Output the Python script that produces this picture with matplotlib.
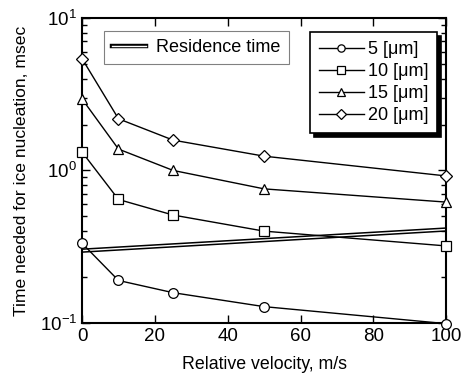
import matplotlib
matplotlib.use('Agg')
import matplotlib.pyplot as plt
from matplotlib.lines import Line2D
from matplotlib.legend_handler import HandlerTuple

plt.rcParams['font.family'] = ['Liberation Sans', 'DejaVu Sans']
plt.rcParams['mathtext.fontset'] = 'custom'
plt.rcParams['mathtext.rm'] = 'Liberation Sans'
plt.rcParams['mathtext.it'] = 'Liberation Sans:italic'

# 資料
velocity = [0, 10, 25, 50, 100]
t5 = [0.333, 0.19, 0.158, 0.128, 0.099]
t10 = [1.32, 0.645, 0.51, 0.40, 0.32]
t15 = [2.94, 1.38, 1.0, 0.757, 0.62]
t20 = [5.4, 2.18, 1.58, 1.24, 0.92]
res_v = [0, 100]
res_t = [0.298, 0.41]

labels = ['5 [μm]', '10 [μm]', '15 [μm]', '20 [μm]']
markers = ['o', 's', '^', 'D']

fig = plt.figure(figsize=(4.61, 3.80), dpi=100)
ax = fig.add_axes([0.178, 0.15, 0.79, 0.803])

# residence time: double line
ax.plot(res_v, res_t, color='black', lw=3.2, solid_capstyle='butt', zorder=2)
ax.plot(res_v, res_t, color='white', lw=1.0, solid_capstyle='butt', zorder=2)

handles = []
for data, m, lab in zip([t5, t10, t15, t20], markers, labels):
    ms = 6.5 if m == 'D' else 7
    h, = ax.plot(velocity, data, color='black', lw=1, marker=m, ms=ms,
                 mfc='white', mec='black', mew=0.9, label=lab, zorder=3,
                 clip_on=False)
    handles.append(h)

ax.set_yscale('log')
ax.set_xlim(0, 100)
ax.set_ylim(0.1, 10)
ax.set_xticks([0, 20, 40, 60, 80, 100])
ax.tick_params(which='both', direction='in', top=True, right=True,
               labelsize=13.5, width=1)
ax.tick_params(which='major', length=6)
ax.tick_params(which='minor', length=3.5)
for s in ax.spines.values():
    s.set_linewidth(1.5)

ax.set_xlabel('Relative velocity, m/s', fontsize=12.8, labelpad=8)
ax.set_ylabel('Time needed for ice nucleation, msec', fontsize=12.6, labelpad=8)

res_handle = (Line2D([], [], color='black', lw=3.2),
              Line2D([], [], color='white', lw=1.0))
leg1 = ax.legend([res_handle], ['Residence time'],
                 handler_map={tuple: HandlerTuple(ndivide=1)},
                 loc='upper left', bbox_to_anchor=(0.06, 0.957),
                 fontsize=13, fancybox=False, edgecolor='gray',
                 framealpha=1, handlelength=1.9, borderpad=0.45,
                 handletextpad=0.55, borderaxespad=0)
leg1.get_frame().set_linewidth(0.8)
ax.add_artist(leg1)

leg2 = ax.legend(handles=handles, loc='upper right',
                 bbox_to_anchor=(0.975, 0.954), fontsize=13, fancybox=False,
                 edgecolor='black', framealpha=1,
                 shadow={'color': 'black', 'alpha': 1, 'ox': 3, 'oy': -3},
                 handlelength=2.5, labelspacing=0.28, borderpad=0.5,
                 handletextpad=0.2, borderaxespad=0, markerscale=0.75)
leg2.get_frame().set_linewidth(1.2)

fig.savefig('out.png', dpi=100)
